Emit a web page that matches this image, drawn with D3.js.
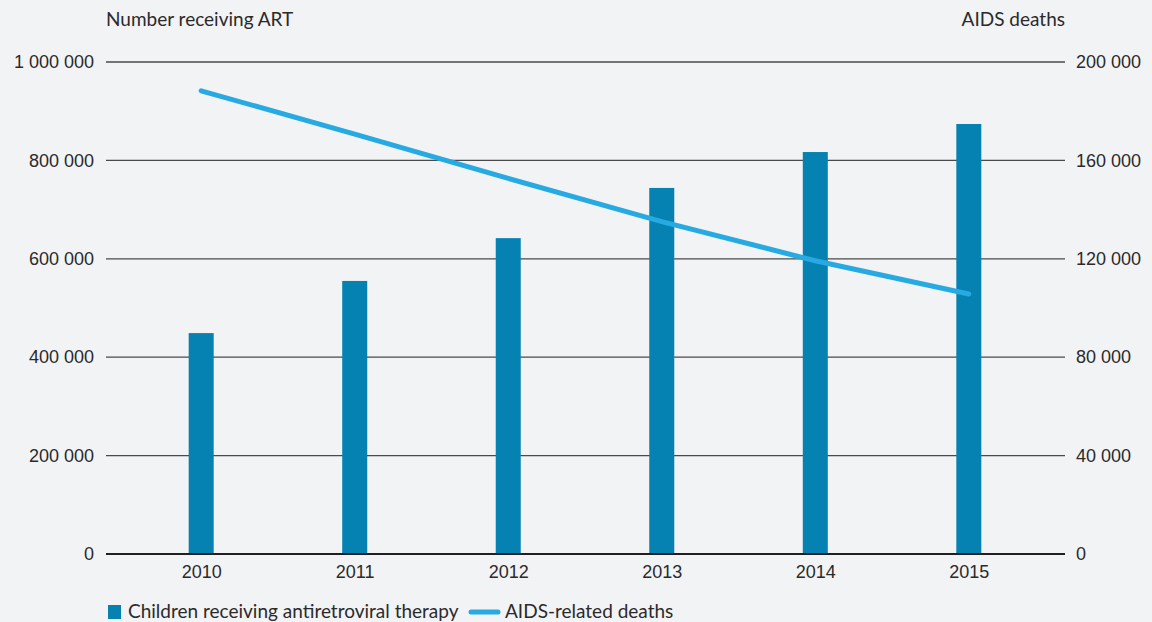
<!DOCTYPE html>
<html>
<head>
<meta charset="utf-8">
<script src="https://cdn.jsdelivr.net/npm/d3@7"></script>
<style>
  body { margin: 0; background: #f2f3f5; }
  svg { display: block; font-family: Lato, "Noto Sans", sans-serif; }
  .tick text { fill: #2b2a2b; font-size: 18px; }
</style>
</head>
<body>
<div id="chart"></div>
<script>
const years = ["2010", "2011", "2012", "2013", "2014", "2015"];
const childrenOnArt = [449000, 555000, 642000, 744000, 817000, 874000];
const aidsDeaths = [188300, 170700, 152700, 135100, 119200, 105700];
const leftTicks = [0, 200000, 400000, 600000, 800000, 1000000];
const rightTicks = [0, 40000, 80000, 120000, 160000, 200000];

const W = 1152, H = 622;
const plotLeft = 106, plotRight = 1064, plotTop = 62, plotBottom = 554;

const svg = d3.select("#chart").append("svg")
    .attr("width", W)
    .attr("height", H);

svg.append("rect").attr("width", W).attr("height", H).attr("fill", "#f2f3f5");

const x = d3.scalePoint().domain(years).range([plotLeft, plotRight]).padding(0.62);
const yL = d3.scaleLinear().domain([0, 1000000]).range([plotBottom, plotTop]);
const yR = d3.scaleLinear().domain([0, 200000]).range([plotBottom, plotTop]);

const fmt = d => d3.format(",")(d).replace(/,/g, " ");

// gridlines
svg.append("g")
  .selectAll("line")
  .data(leftTicks.slice(1))
  .join("line")
    .attr("x1", plotLeft).attr("x2", plotRight + 1)
    .attr("y1", d => yL(d)).attr("y2", d => yL(d))
    .attr("stroke", "#4a4a4c")
    .attr("stroke-width", 1.3);

// left axis
svg.append("g")
    .attr("transform", `translate(${plotLeft},0)`)
    .call(d3.axisLeft(yL).tickValues(leftTicks).tickFormat(fmt).tickSize(0).tickPadding(12))
    .call(g => g.select(".domain").remove());

// right axis
svg.append("g")
    .attr("transform", `translate(${plotRight},0)`)
    .call(d3.axisRight(yR).tickValues(rightTicks).tickFormat(fmt).tickSize(0).tickPadding(12))
    .call(g => g.select(".domain").remove());

// bars
const barW = 25;
svg.append("g")
  .selectAll("rect")
  .data(years)
  .join("rect")
    .attr("x", d => x(d) - barW / 2)
    .attr("y", (d, i) => yL(childrenOnArt[i]))
    .attr("width", barW)
    .attr("height", (d, i) => plotBottom - yL(childrenOnArt[i]))
    .attr("fill", "#0581b2");

// baseline
svg.append("line")
    .attr("x1", plotLeft).attr("x2", plotRight + 1)
    .attr("y1", plotBottom).attr("y2", plotBottom)
    .attr("stroke", "#231f20")
    .attr("stroke-width", 2.2);

// x axis labels
svg.append("g")
    .attr("transform", `translate(0,${plotBottom})`)
    .call(d3.axisBottom(x).tickSize(0).tickPadding(11))
    .call(g => g.select(".domain").remove());

// line
const line = d3.line()
    .x((d, i) => x(years[i]))
    .y(d => yR(d));

svg.append("path")
    .datum(aidsDeaths)
    .attr("d", line)
    .attr("fill", "none")
    .attr("stroke", "#27aae1")
    .attr("stroke-width", 5)
    .attr("stroke-linecap", "round");

// axis titles
svg.append("text")
    .attr("x", plotLeft).attr("y", 26)
    .attr("font-size", 19).attr("fill", "#2b2a2b")
    .text("Number receiving ART");

svg.append("text")
    .attr("x", plotRight + 1).attr("y", 26)
    .attr("text-anchor", "end")
    .attr("font-size", 19).attr("fill", "#2b2a2b")
    .text("AIDS deaths");

// legend
const lg = svg.append("g").attr("transform", "translate(108,612)");
lg.append("rect").attr("x", 0).attr("y", -7).attr("width", 13).attr("height", 14).attr("fill", "#0581b2");
lg.append("text").attr("x", 20).attr("y", 6).attr("font-size", 19).attr("fill", "#2b2a2b")
    .text("Children receiving antiretroviral therapy");
lg.append("line").attr("x1", 363).attr("x2", 390).attr("y1", 0).attr("y2", 0)
    .attr("stroke", "#27aae1").attr("stroke-width", 5).attr("stroke-linecap", "round");
lg.append("text").attr("x", 397).attr("y", 6).attr("font-size", 19).attr("fill", "#2b2a2b")
    .text("AIDS-related deaths");
</script>
</body>
</html>
